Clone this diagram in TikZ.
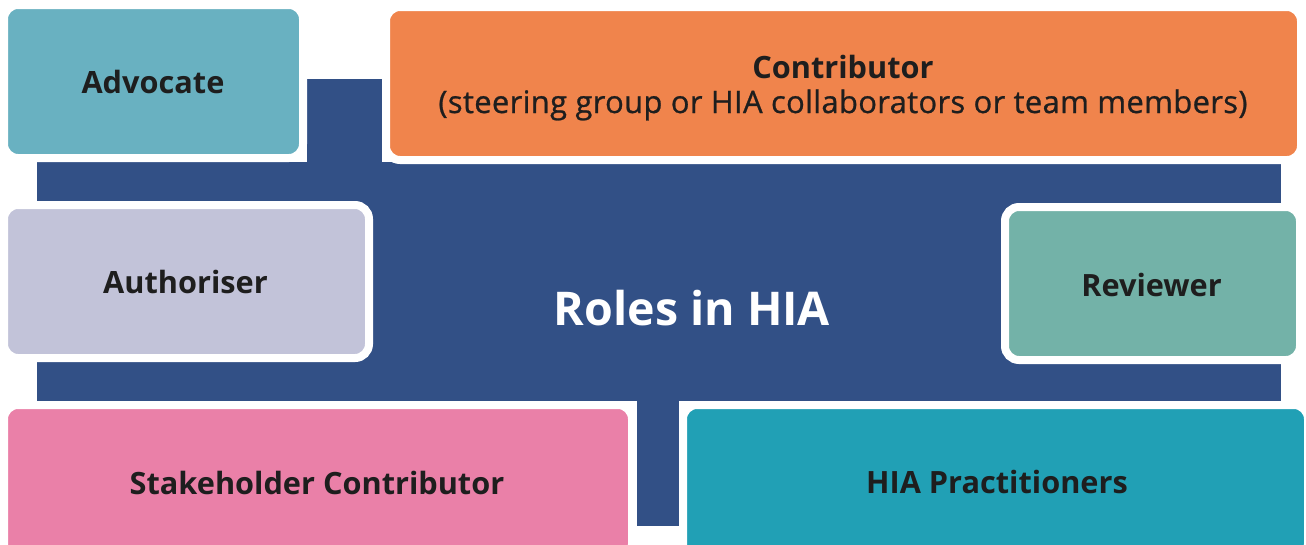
\documentclass[tikz,border=0pt]{standalone}
\usepackage{fontspec}
\setmainfont{Open Sans}
\newfontfamily\subfont[FakeBold=0.8,LetterSpace=1]{Open Sans}
\definecolor{navy}{HTML}{325086}
\definecolor{cadv}{HTML}{69B1C1}
\definecolor{ccon}{HTML}{F0844C}
\definecolor{caut}{HTML}{C2C3D9}
\definecolor{crev}{HTML}{73B2A8}
\definecolor{cstk}{HTML}{EA80A8}
\definecolor{cpra}{HTML}{21A0B5}
\definecolor{ink}{HTML}{1E1E1E}
\begin{document}
\begin{tikzpicture}[x=1pt,y=-1pt,
  rolebox/.style={draw=white, line width=8pt, rounded corners=14pt, inner sep=0pt, outer sep=0pt},
  lbl/.style={anchor=base, text=ink, font=\fontsize{30.7}{36}\selectfont\bfseries, inner sep=0pt},
  sub/.style={anchor=base, text=ink, font=\subfont\fontsize{31}{36}\selectfont, inner sep=0pt}]
\useasboundingbox (0,0) rectangle (1306,544);
\clip (0,0) rectangle (1306,544);
% central shape
\fill[navy] (37,162) rectangle (1281,401);
\fill[navy] (307,79) rectangle (382,163);
\fill[navy] (637,400) rectangle (679,526);
% boxes
\node[rolebox, fill=cadv, minimum width=299pt, minimum height=153pt] (adv) at (153.5,81.5) {};
\node[rolebox, fill=ccon, minimum width=915pt, minimum height=153pt] (con) at (843.5,83.5) {};
\node[rolebox, fill=caut, minimum width=365pt, minimum height=153pt] (aut) at (186.5,281.5) {};
\node[rolebox, fill=crev, minimum width=295pt, minimum height=153pt] (rev) at (1152.5,283.5) {};
\node[rolebox, fill=cstk, minimum width=628pt, minimum height=153pt] (stk) at (318,481.5) {};
\node[rolebox, fill=cpra, minimum width=625pt, minimum height=153pt] (pra) at (995.5,481.5) {};
% labels
\node[lbl] (tadv) at (153,93) {Advocate};
\node[lbl] (tcon) at (843,78) {Contributor};
\node[sub] (tcon2) at (843,113) {(steering group or HIA collaborators or team members)};
\node[lbl] (taut) at (185.5,293) {Authoriser};
\node[lbl] (trev) at (1151.5,296) {Reviewer};
\node[lbl] (tstk) at (317,494) {Stakeholder Contributor};
\node[lbl] (tpra) at (997,493) {HIA Practitioners};
\node[anchor=base, text=white, font=\fontsize{46.5}{54}\selectfont\bfseries, inner sep=0pt] (title) at (692,325) {Roles in HIA};
\end{tikzpicture}
\end{document}
